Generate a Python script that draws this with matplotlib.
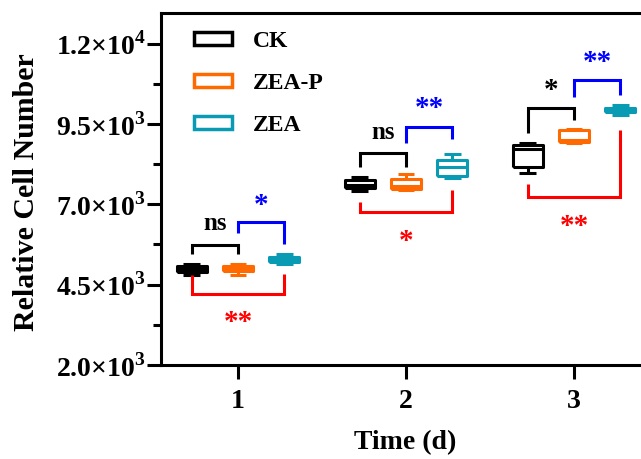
import numpy as np
import matplotlib
matplotlib.use('Agg')
import matplotlib.pyplot as plt
from matplotlib.patches import Patch
from matplotlib.ticker import FixedLocator, FuncFormatter

plt.rcParams['font.family'] = ['Liberation Serif', 'DejaVu Serif']
plt.rcParams['font.weight'] = 'bold'
plt.rcParams['mathtext.fontset'] = 'custom'
plt.rcParams['mathtext.rm'] = 'Liberation Serif:bold'
plt.rcParams['mathtext.bf'] = 'Liberation Serif:bold'

#--* data *--
days = [1, 2, 3]
groups = ['CK', 'ZEA-P', 'ZEA']
colors = ['#000000', '#FF6A00', '#0A9BB4']
# [min, q1, median, q3, max] per day
ck_stats = [[4810, 4890, 4980, 5075, 5150],
            [7404, 7497, 7600, 7745, 7838],
            [7963, 8150, 8710, 8830, 8894]]
zeap_stats = [[4790, 4910, 5000, 5080, 5130],
              [7435, 7466, 7559, 7776, 7932],
              [8900, 8925, 9000, 9298, 9330]]
zea_stats = [[5137, 5214, 5290, 5370, 5447],
             [7810, 7870, 8149, 8366, 8553],
             [9764, 9857, 9950, 9997, 10075]]

# significance brackets: CK vs ZEA-P (black, above), ZEA-P vs ZEA (blue, above), CK vs ZEA (red, below)
black_top = [5727, 8585, 9982]
black_legs = [(5448, 5448), (8150, 8150), (9206, 9610)]
black_text = ['ns', 'ns', '*']
black_text_y = [6410, 9237, 10550]
blue_top = [6442, 9392, 10852]
blue_legs = [(6100, 5758), (8895, 9020), (10324, 10386)]
blue_text = ['*', '**', '**']
blue_text_y = [6950, 9990, 11420]
red_bottom = [4205, 6752, 7218]
red_legs = [(4795, 4826), (7063, 7436), (7622, 9299)]
red_text = ['**', '*', '**']
red_text_y = [3310, 5830, 6300]

y_major = [2000, 4500, 7000, 9500, 12000]
y_minor = [3250, 5750, 8250, 10750]

offset = 0.275
box_w = 0.18
cap_w = 0.10

fig = plt.figure(figsize=(6.41, 4.59), dpi=100)
ax = fig.add_axes([161 / 641, 94 / 459, 490 / 641, 352 / 459])

all_stats = [ck_stats, zeap_stats, zea_stats]
for gi, (stats, c) in enumerate(zip(all_stats, colors)):
    pos = [d + (gi - 1) * offset for d in days]
    bxp_stats = [dict(whislo=s[0], q1=s[1], med=s[2], q3=s[3], whishi=s[4], fliers=[])
                 for s in stats]
    lp = dict(color=c, linewidth=2.2, solid_capstyle='butt')
    ax.bxp(bxp_stats, positions=pos, widths=box_w, capwidths=cap_w, showfliers=False,
           boxprops=lp, whiskerprops=lp, capprops=lp, medianprops=lp, manage_ticks=False)


def bracket(x1, x2, ylev, legs, col):
    ax.plot([x1, x1, x2, x2], [legs[0], ylev, ylev, legs[1]], color=col, lw=2.2,
            solid_joinstyle='miter', solid_capstyle='butt', zorder=3)


def star_text(x, y, s, col):
    size = 18 if s == 'ns' else 21
    ax.text(x, y, s, color=col, fontsize=size, fontweight='bold', ha='center',
            va='center', zorder=4)


for i, d in enumerate(days):
    x_ck, x_p, x_z = d - offset, d, d + offset
    bracket(x_ck, x_p, black_top[i], black_legs[i], 'black')
    star_text((x_ck + x_p) / 2, black_text_y[i], black_text[i], 'black')
    bracket(x_p, x_z, blue_top[i], blue_legs[i], '#0000FF')
    star_text((x_p + x_z) / 2, blue_text_y[i], blue_text[i], '#0000FF')
    bracket(x_ck, x_z, red_bottom[i], red_legs[i], '#FF0000')
    star_text((x_ck + x_z) / 2, red_text_y[i], red_text[i], '#FF0000')

ax.set_xlim(0.542, 3.458)
ax.set_ylim(2000, 12950)
ax.set_xticks(days)
ax.set_xticklabels([str(d) for d in days])
ax.yaxis.set_major_locator(FixedLocator(y_major))
ax.yaxis.set_minor_locator(FixedLocator(y_minor))


def sci_fmt(v, pos):
    e = int(np.floor(np.log10(v)))
    m = v / 10 ** e
    return '%.1f×10$^{%d}$' % (m, e)


ax.yaxis.set_major_formatter(FuncFormatter(sci_fmt))

for side in ['top', 'left', 'bottom']:
    ax.spines[side].set_linewidth(2.2)
ax.spines['right'].set_visible(False)
ax.tick_params(axis='both', which='major', length=10, width=2.2, labelsize=20, pad=1)
ax.tick_params(axis='x', which='major', pad=7)
ax.tick_params(axis='y', which='minor', length=6, width=2.2)

ax.set_ylabel('Relative Cell Number', fontsize=21.5, fontweight='bold')
ax.yaxis.set_label_coords(-0.246, 0.49)
ax.set_xlabel('Time (d)', fontsize=20, fontweight='bold')
ax.xaxis.set_label_coords(0.498, -0.185)

handles = [Patch(facecolor='white', edgecolor=c, linewidth=2.5) for c in colors]
ax.legend(handles, groups, loc='upper left', bbox_to_anchor=(0.067, 0.95), frameon=False,
          fontsize=17, handlelength=1.6, handleheight=0.47, handletextpad=0.9,
          labelspacing=0.9, borderpad=0, borderaxespad=0)

fig.savefig('out.png', dpi=100)
